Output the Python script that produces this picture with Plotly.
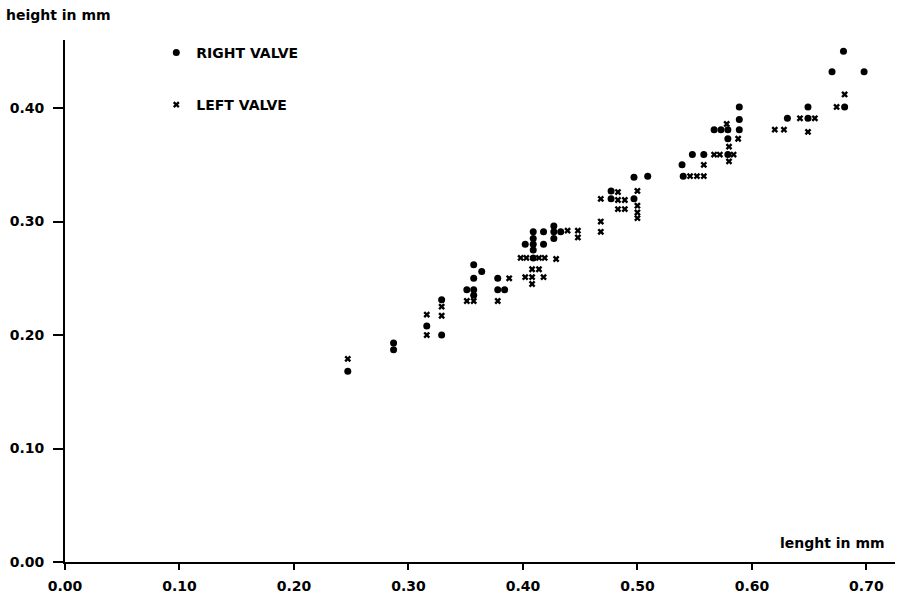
import plotly.graph_objects as go

# Right valve (dots): length, height in mm
right_len = [0.247, 0.287, 0.287, 0.316, 0.329, 0.329,
             0.357, 0.364, 0.357, 0.351, 0.357, 0.357,
             0.378, 0.378, 0.384,
             0.402, 0.409, 0.409, 0.409, 0.409, 0.409,
             0.418, 0.418, 0.427, 0.427, 0.433, 0.427,
             0.477, 0.477, 0.497, 0.509, 0.497,
             0.539, 0.540, 0.548, 0.558,
             0.567, 0.573, 0.579, 0.589, 0.589, 0.589, 0.579, 0.579,
             0.631, 0.649, 0.649, 0.670, 0.680, 0.698, 0.681]
right_hgt = [0.168, 0.193, 0.187, 0.208, 0.231, 0.200,
             0.262, 0.256, 0.250, 0.240, 0.240, 0.235,
             0.250, 0.240, 0.240,
             0.280, 0.291, 0.285, 0.280, 0.275, 0.268,
             0.291, 0.280, 0.296, 0.291, 0.291, 0.285,
             0.327, 0.320, 0.339, 0.340, 0.320,
             0.350, 0.340, 0.359, 0.359,
             0.381, 0.381, 0.381, 0.401, 0.390, 0.381, 0.373, 0.359,
             0.391, 0.401, 0.391, 0.432, 0.450, 0.432, 0.401]

# Left valve (crosses): length, height in mm
left_len = [0.247, 0.316, 0.316, 0.329, 0.329,
            0.351, 0.357, 0.378, 0.388,
            0.402, 0.408, 0.418, 0.408, 0.414, 0.408,
            0.398, 0.403, 0.414, 0.419, 0.429,
            0.439, 0.448, 0.448, 0.468, 0.468,
            0.483, 0.468, 0.483, 0.489, 0.500,
            0.483, 0.489, 0.500, 0.500, 0.500,
            0.546, 0.552, 0.558, 0.558,
            0.567, 0.572, 0.584, 0.580, 0.580, 0.588, 0.578,
            0.620, 0.628, 0.642, 0.655, 0.649, 0.674, 0.681]
left_hgt = [0.179, 0.218, 0.200, 0.225, 0.217,
            0.230, 0.230, 0.230, 0.250,
            0.251, 0.251, 0.251, 0.258, 0.258, 0.245,
            0.268, 0.268, 0.268, 0.268, 0.267,
            0.292, 0.292, 0.286, 0.300, 0.291,
            0.326, 0.320, 0.319, 0.319, 0.327,
            0.311, 0.311, 0.314, 0.308, 0.303,
            0.340, 0.340, 0.340, 0.350,
            0.359, 0.359, 0.359, 0.353, 0.366, 0.373, 0.386,
            0.381, 0.381, 0.391, 0.391, 0.379, 0.401, 0.412]

x_ticks = [0.0, 0.1, 0.2, 0.3, 0.4, 0.5, 0.6, 0.7]
y_ticks = [0.0, 0.1, 0.2, 0.3, 0.4]

FONT = "DejaVu Sans"
TXT = dict(family=FONT, size=14, color="black", weight="bold")

fig = go.Figure()
fig.add_trace(go.Scatter(
    x=right_len, y=right_hgt, mode="markers", name="RIGHT VALVE",
    legendgroup="r",
    marker=dict(symbol="circle", size=7, color="black", line=dict(width=0)),
))
fig.add_trace(go.Scatter(
    x=left_len, y=left_hgt, mode="markers", name="LEFT VALVE",
    legendgroup="l",
    marker=dict(symbol="x", size=6, color="black", line=dict(width=0)),
))

axis_common = dict(
    showgrid=False, zeroline=False, showline=True, linecolor="black",
    linewidth=2, ticks="outside", tickcolor="black", tickwidth=2,
    tickformat=".2f", tickfont=TXT,
)

fig.update_layout(
    width=897, height=596,
    margin=dict(l=65, r=2, t=40, b=34),
    paper_bgcolor="white", plot_bgcolor="white",
    font=dict(family=FONT, size=14, color="black"),
    xaxis=dict(range=[0, 0.725], tickvals=x_ticks, ticklen=6,
               ticklabelstandoff=4, **axis_common),
    yaxis=dict(range=[0, 0.46], tickvals=y_ticks, ticklen=10,
               ticklabelstandoff=6, **axis_common),
    showlegend=True,
    legend=dict(
        x=0.11, y=1.006, xanchor="left", yanchor="top",
        bgcolor="rgba(0,0,0,0)", borderwidth=0,
        traceorder="grouped", tracegroupgap=31, itemwidth=30,
        font=TXT,
    ),
    annotations=[
        dict(text="height in mm", xref="paper", yref="paper",
             x=-0.0735, y=1.048, xanchor="left", yanchor="middle",
             showarrow=False, font=TXT),
        dict(text="lenght in mm", xref="paper", yref="paper",
             x=0.99, y=0.036, xanchor="right", yanchor="middle",
             showarrow=False, font=TXT),
    ],
)

fig.write_html("out.html", config={"displayModeBar": False},
               post_script="document.body.style.margin='0';")
